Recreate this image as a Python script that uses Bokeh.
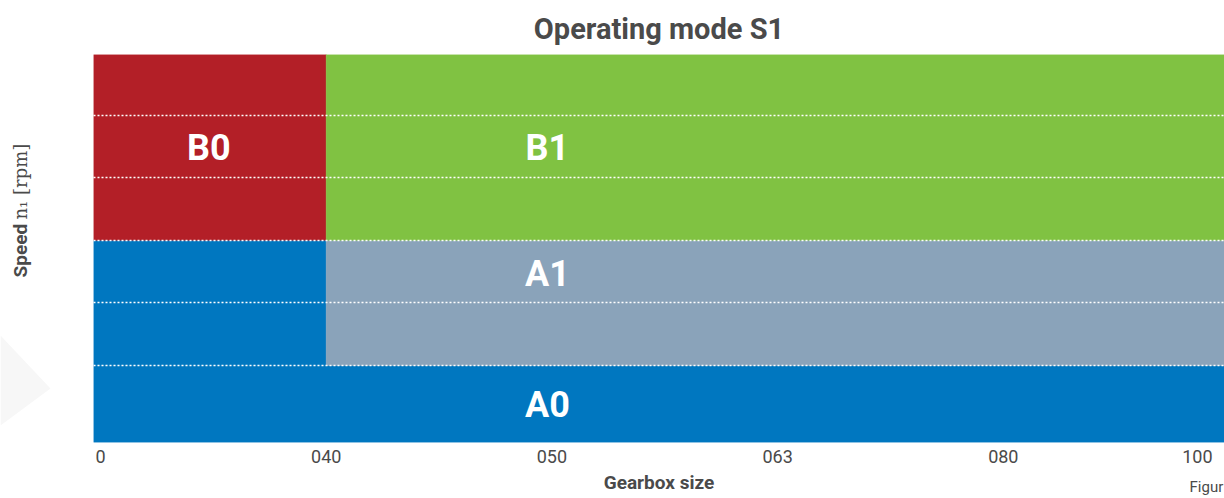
import math
from bokeh.plotting import figure
from bokeh.layouts import row
from bokeh.models import FixedTicker, Label, Range1d, ColumnDataSource, LinearAxis
from bokeh.core.properties import value
from bokeh.embed import file_html
from bokeh.resources import INLINE

# ---- data ----
gearbox_sizes = ["0", "040", "050", "063", "080", "100"]
speed_limits = [0.0, 1.23, 3.23, 6.2]          # band edges (relative speed)
speed_grid = [1.23, 2.23, 3.23, 4.23, 5.23]     # dotted reference speeds
zone_names = ["A0", "A0", "A1", "B0", "B1"]
zone_from = [0, 0, 1, 0, 1]                      # gearbox index where zone starts
zone_to = [5, 1, 5, 1, 5]                        # gearbox index where zone ends
zone_band = [0, 1, 1, 2, 2]                      # index into speed_limits
zone_colors = ["#0077C0", "#0077C0", "#8AA3BA", "#B31F27", "#80C242"]
label_names = ["B0", "B1", "A1", "A0"]
label_x = [0.48, 1.98, 1.98, 1.98]
label_y = [4.7, 4.7, 2.7, 0.6]

FONT = "Roboto"
GREY = "#4a4a4a"
LEFT_W, H = 93, 498
TOP, FRAME_H, BOTTOM = 54, 388, 56

# ---------- left strip: y axis title (pixel coordinates, y up) ----------
L = figure(frame_width=LEFT_W, frame_height=FRAME_H,
           x_range=Range1d(0, LEFT_W), y_range=Range1d(BOTTOM, BOTTOM + FRAME_H),
           x_axis_type=None, y_axis_type=None,
           output_backend="svg", toolbar_location=None,
           min_border_left=0, min_border_right=0, min_border_top=TOP, min_border_bottom=BOTTOM)
L.grid.visible = False
L.outline_line_color = None
L.title.visible = False
# faint watermark
L.patch([0, 50, 0], [163, 110, 73], fill_color="#f7f7f7", line_color=None)
L.text(x=[20], y=[221], text=["Speed"], angle=math.pi / 2, text_align="left",
       text_baseline="middle", text_font=value(FONT), text_font_style="bold",
       text_font_size="19px", text_color=GREY)
L.text(x=[20], y=[279], text=["n\u2081 [rpm]"], angle=math.pi / 2, text_align="left",
       text_baseline="middle", text_font=value("DejaVu Serif"),
       text_font_size="18px", text_color=GREY)

# ---------- main chart ----------
x_start, x_end = -0.031, 4.98
p = figure(frame_width=1131, frame_height=FRAME_H,
           x_range=Range1d(x_start, x_end), y_range=Range1d(speed_limits[0], speed_limits[-1]),
           output_backend="svg", toolbar_location=None,
           min_border_left=0, min_border_right=0, min_border_top=TOP, min_border_bottom=BOTTOM)
p.outline_line_color = None
p.background_fill_color = "white"

last = len(gearbox_sizes) - 1
lefts = [x_start if f == 0 else f for f in zone_from]
rights = [x_end if t == last else t for t in zone_to]
bottoms = [speed_limits[b] for b in zone_band]
tops = [speed_limits[b + 1] for b in zone_band]
src = ColumnDataSource(dict(left=lefts, right=rights, bottom=bottoms, top=tops,
                            color=zone_colors, name=zone_names))
p.quad(left="left", right="right", bottom="bottom", top="top", fill_color="color",
       line_color="color", line_width=0.5, source=src)

# grid
p.xgrid.visible = False
p.ygrid.ticker = FixedTicker(ticks=speed_grid)
p.ygrid.grid_line_color = "white"
p.ygrid.grid_line_dash = "2 2"
p.ygrid.grid_line_width = 1.5
p.ygrid.level = "overlay"

# zone labels
for name, lx, ly in zip(label_names, label_x, label_y):
    p.add_layout(Label(x=lx, y=ly, text=name, text_align="center", text_baseline="middle",
                       text_font=FONT, text_font_style="bold", text_font_size="36px",
                       text_color="white"))

# x axis: gearbox sizes
tick_pos = list(range(last)) + [last - 0.14]
p.xaxis.ticker = FixedTicker(ticks=tick_pos)
p.xaxis.major_label_overrides = {t: s for t, s in zip(tick_pos, gearbox_sizes)}
p.xaxis.axis_line_color = None
p.xaxis.major_tick_line_color = None
p.xaxis.minor_tick_line_color = None
p.xaxis.major_tick_out = 0
p.xaxis.major_tick_in = 0
p.xaxis.major_label_standoff = 7
p.xaxis.major_label_text_font = FONT
p.xaxis.major_label_text_font_size = "18px"
p.xaxis.major_label_text_color = GREY

# second row below: axis title + cut caption
caption_pos = last - 0.10
ax2 = LinearAxis(ticker=FixedTicker(ticks=[caption_pos]),
                 major_label_overrides={caption_pos: "Figur"},
                 axis_line_color=None, major_tick_line_color=None, minor_tick_line_color=None,
                 major_tick_out=0, major_tick_in=0,
                 major_label_standoff=12, major_label_text_font=FONT,
                 major_label_text_font_size="15px", major_label_text_color=GREY,
                 axis_label="Gearbox size", axis_label_text_font=FONT,
                 axis_label_text_font_style="bold", axis_label_text_font_size="19px",
                 axis_label_text_color=GREY, axis_label_standoff=-28)
p.add_layout(ax2, "below")

p.yaxis.visible = False

# title
p.title.text = "Operating mode S1"
p.title.align = "center"
p.title.text_font = FONT
p.title.text_font_style = "bold"
p.title.text_font_size = "29px"
p.title.text_color = GREY
p.title.standoff = 18

layout = row(L, p, spacing=0)
open("out.html", "w").write(file_html(layout, INLINE))
